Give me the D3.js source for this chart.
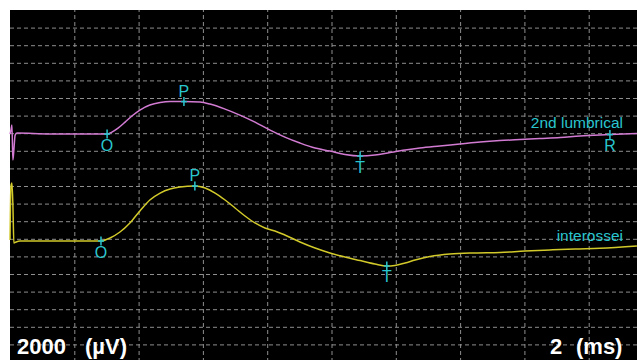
<!DOCTYPE html>
<html>
<head>
<meta charset="utf-8">
<script src="https://cdn.jsdelivr.net/npm/d3@7/dist/d3.min.js"></script>
<style>
  html, body { margin: 0; padding: 0; background: #fff; }
  svg { display: block; }
  text { font-family: Arial, "Liberation Sans", sans-serif; }
</style>
</head>
<body>
<svg id="chart" width="637" height="360"></svg>
<script>
// Time base (ms) and amplitude (µV, relative to each trace's baseline)
const lumbricalTime = [0, 0.03, 0.06, 0.09, 0.12, 0.16, 0.22, 1.24, 3.02, 3.17, 3.36, 3.58, 3.79, 4.04, 4.35, 4.67, 4.98, 5.41, 5.91, 6.22, 6.69, 7.15, 7.62, 8.09, 8.55, 9.02, 9.49, 9.95, 10.42, 10.89, 11.35, 11.82, 12.29, 12.75, 13.37, 13.99, 14.62, 15.24, 15.86, 16.48, 17.11, 17.73, 18.35, 18.66, 19.50];
const lumbricalValue = [0, 455, 1020, -2950, -1820, -110, 110, 0, 0, 230, 680, 1360, 2050, 2730, 3300, 3580, 3690, 3690, 3640, 3410, 2840, 2160, 1360, 450, -340, -1020, -1590, -1930, -2330, -2500, -2390, -2100, -1820, -1590, -1360, -1140, -910, -740, -620, -510, -400, -230, -110, -60, 60];

const interosseiTime = [0, 0.03, 0.06, 0.09, 0.12, 0.19, 0.31, 2.83, 3.11, 3.42, 3.73, 4.04, 4.35, 4.67, 4.98, 5.29, 5.75, 6.07, 6.38, 6.69, 7.00, 7.31, 7.62, 7.93, 8.24, 8.55, 9.02, 9.49, 9.95, 10.42, 10.89, 11.35, 11.72, 11.97, 12.29, 12.60, 13.06, 13.68, 14.46, 15.24, 16.02, 16.79, 17.57, 18.35, 19.50];
const interosseiValue = [110, 6250, 6590, 4090, -230, -110, 0, 0, 340, 1020, 2050, 3410, 4660, 5450, 5910, 6130, 6250, 6020, 5450, 4660, 3750, 2840, 2050, 1480, 1140, 680, -110, -800, -1360, -1820, -2220, -2610, -2840, -2780, -2500, -2160, -1760, -1480, -1360, -1310, -1140, -1020, -910, -830, -570];

// Trace names and their baseline positions on the screen (µV)
const traceNames = ["2nd lumbrical", "interossei"];
const traceOffsets = [5900, -6250];
const traceColors = ["#d27bd2", "#d2c92a"];

// Latency markers: trace index, letter, time (ms), label side
const markerTrace = [0, 0, 0, 0, 1, 1, 1];
const markerLabel = ["O", "P", "T", "R", "O", "P", "T"];
const markerTime  = [3.02, 5.41, 10.89, 18.66, 2.83, 5.75, 11.72];
const markerSide  = ["below", "above", "below", "below", "below", "above", "below"];

// Screen scale: 2 ms and 2000 µV per division
const sweepLabel = "2";
const sweepUnit = "(ms)";
const sensLabel = "2000";
const sensUnit = "(µV)";
const msPerDiv = 2, uvPerDiv = 2000;
const xDivs = 10, yDivs = 20;

const svg = d3.select("#chart");
const padL = 10, padT = 10, divW = 64.3, divH = 17.6;

const x = d3.scaleLinear().domain([0, xDivs * msPerDiv]).range([padL, padL + xDivs * divW]);
const y = d3.scaleLinear().domain([yDivs / 2 * uvPerDiv, -yDivs / 2 * uvPerDiv]).range([padT, padT + yDivs * divH]);

// Screen background
svg.append("rect").attr("x", padL).attr("y", padT).attr("width", 637 - padL).attr("height", 360 - padT).attr("fill", "#000");

const plot = svg.append("g");

// Dashed graticule
const xAxis = d3.axisBottom(x).tickValues(d3.range(1, xDivs).map(i => i * msPerDiv)).tickSize(-(yDivs * divH)).tickFormat("");
const yAxis = d3.axisLeft(y).tickValues(d3.range(1, yDivs).map(i => yDivs / 2 * uvPerDiv - i * uvPerDiv)).tickSize(-(xDivs * divW)).tickFormat("");

const gx = plot.append("g").attr("transform", `translate(0,${padT + yDivs * divH})`).call(xAxis);
const gy = plot.append("g").attr("transform", `translate(${padL},0)`).call(yAxis);
[gx, gy].forEach(g => {
  g.select(".domain").remove();
  g.selectAll(".tick line").attr("stroke", "#8e8e8e").attr("stroke-width", 1).attr("stroke-dasharray", "4,3");
});

const traces = [
  { time: lumbricalTime, value: lumbricalValue },
  { time: interosseiTime, value: interosseiValue }
];

const line = d3.line().curve(d3.curveMonotoneX);

traces.forEach((tr, i) => {
  const pts = tr.time.map((t, j) => [x(t), y(tr.value[j] + traceOffsets[i])]);
  plot.append("path")
    .attr("d", line(pts))
    .attr("fill", "none")
    .attr("stroke", traceColors[i])
    .attr("stroke-width", 1.5);
});

// Value of a trace at a given time
function traceAt(i, t) {
  const tr = traces[i];
  const k = d3.bisectLeft(tr.time, t);
  if (k <= 0) return tr.value[0];
  if (k >= tr.time.length) return tr.value[tr.value.length - 1];
  const t0 = tr.time[k - 1], t1 = tr.time[k];
  const f = (t - t0) / (t1 - t0);
  return tr.value[k - 1] + f * (tr.value[k] - tr.value[k - 1]);
}

const cyan = "#2ac6cf";

markerLabel.forEach((lab, m) => {
  const i = markerTrace[m];
  const mx = x(markerTime[m]);
  const my = y(traceAt(i, markerTime[m]) + traceOffsets[i]);
  plot.append("line").attr("x1", mx).attr("x2", mx).attr("y1", my - 4.5).attr("y2", my + 4.5)
    .attr("stroke", cyan).attr("stroke-width", 1.5);
  plot.append("line").attr("x1", mx - 3).attr("x2", mx + 3).attr("y1", my).attr("y2", my)
    .attr("stroke", cyan).attr("stroke-width", 1.5);
  plot.append("text")
    .attr("x", mx).attr("y", markerSide[m] === "above" ? my - 5 : my + 16.5)
    .attr("text-anchor", "middle")
    .attr("font-size", 16)
    .attr("fill", cyan)
    .text(lab);
});

// Trace names
traceNames.forEach((n, i) => {
  plot.append("text")
    .attr("x", 623)
    .attr("y", y(traceOffsets[i]) + (i === 0 ? -6 : 0))
    .attr("text-anchor", "end")
    .attr("font-size", 15.5)
    .attr("fill", cyan)
    .text(n);
});

// Scale annotations
const scaleText = [
  { t: sensLabel, x: 17 }, { t: sensUnit, x: 85 },
  { t: sweepLabel, x: 550 }, { t: sweepUnit, x: 576 }
];
scaleText.forEach(s => {
  svg.append("text")
    .attr("x", s.x).attr("y", 354)
    .attr("font-size", 22)
    .attr("font-weight", "bold")
    .attr("fill", "#fff")
    .text(s.t);
});
</script>
</body>
</html>
